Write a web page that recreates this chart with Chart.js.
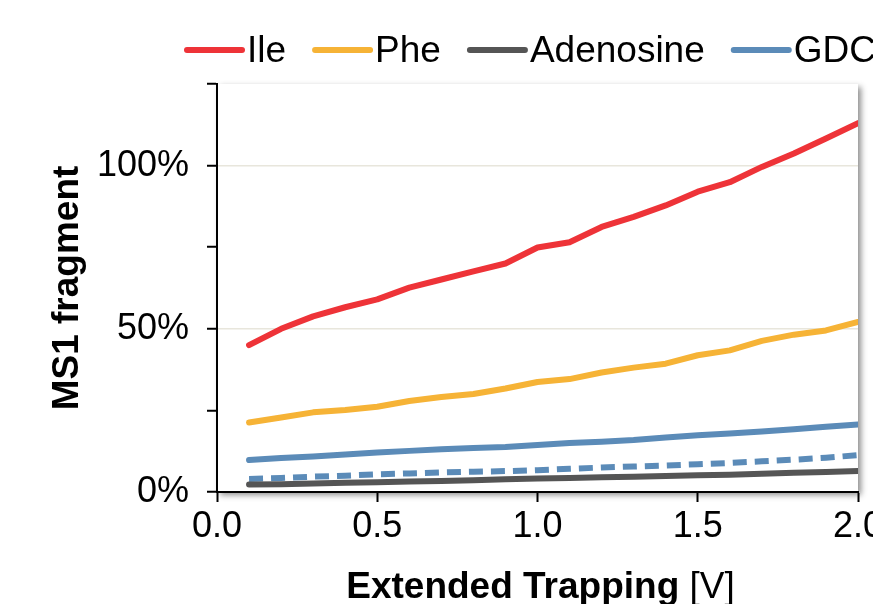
<!DOCTYPE html>
<html>
<head>
<meta charset="utf-8">
<script src="https://cdn.jsdelivr.net/npm/chart.js@4.4.0/dist/chart.umd.min.js"></script>
<style>
  html, body { margin: 0; padding: 0; background: #fff; overflow: hidden; }
  #wrap { width: 873px; height: 604px; overflow: hidden; position: relative; }
</style>
</head>
<body>
<div id="wrap"><canvas id="chart" width="1000" height="604"></canvas></div>
<script>
// extended trapping voltage [V]
const voltages = [0.1, 0.2, 0.3, 0.4, 0.5, 0.6, 0.7, 0.8, 0.9, 1.0,
                  1.1, 1.2, 1.3, 1.4, 1.5, 1.6, 1.7, 1.8, 1.9, 2.0];

// MS1 fragment, in %
const ile = [45.0, 50.0, 53.8, 56.6, 59.0, 62.6, 65.1, 67.6, 70.0, 74.9,
             76.5, 81.2, 84.3, 87.8, 92.0, 94.9, 99.6, 103.7, 108.3, 113.0];
const phe = [21.3, 22.8, 24.4, 25.1, 26.1, 27.9, 29.1, 30.0, 31.7, 33.7,
             34.6, 36.6, 38.1, 39.3, 41.9, 43.4, 46.3, 48.2, 49.5, 52.1];
const adenosine = [2.3, 2.4, 2.6, 2.8, 3.0, 3.2, 3.4, 3.6, 3.9, 4.1,
                   4.3, 4.5, 4.7, 4.9, 5.1, 5.3, 5.6, 5.9, 6.1, 6.4];
const gdc = [9.8, 10.4, 10.9, 11.5, 12.1, 12.6, 13.1, 13.5, 13.8, 14.4,
             15.0, 15.4, 15.9, 16.7, 17.4, 17.9, 18.5, 19.2, 20.0, 20.7];
const gdcDashed = [4.0, 4.3, 4.7, 5.0, 5.4, 5.7, 6.0, 6.2, 6.4, 6.7,
                   7.1, 7.5, 7.8, 8.1, 8.5, 8.9, 9.4, 9.9, 10.5, 11.3];

const seriesNames = ['Ile', 'Phe', 'Adenosine', 'GDC'];
const yLabelTicks = [0, 50, 100];

const FONT = '"Liberation Sans", Arial, sans-serif';

function pts(values) {
    return values.map((v, i) => ({x: voltages[i], y: v}));
}

// white plot area with soft shadow on the right and bottom
const areaShadow = {
    id: 'areaShadow',
    beforeDraw(chart) {
        const a = chart.chartArea;
        const ctx = chart.ctx;
        ctx.save();
        ctx.shadowColor = 'rgba(0,0,0,0.45)';
        ctx.shadowBlur = 6;
        ctx.shadowOffsetX = 3;
        ctx.shadowOffsetY = 3;
        ctx.fillStyle = '#fff';
        ctx.fillRect(a.left, a.top, a.right - a.left, a.bottom - a.top);
        ctx.restore();
    }
};

// legend drawn by hand: short line right next to the label
const lineLegend = {
    id: 'lineLegend',
    afterDraw(chart) {
        const ctx = chart.ctx;
        ctx.save();
        ctx.font = '37px ' + FONT;
        ctx.textBaseline = 'alphabetic';
        let x = 187;
        chart.data.datasets.forEach(ds => {
            if (!ds.inLegend) return;
            ctx.strokeStyle = ds.borderColor;
            ctx.lineWidth = 6;
            ctx.lineCap = 'round';
            ctx.beginPath();
            ctx.moveTo(x, 50);
            ctx.lineTo(x + 55, 50);
            ctx.stroke();
            x += 60;
            ctx.fillStyle = '#000';
            ctx.fillText(ds.label, x, 62);
            x += ctx.measureText(ds.label).width + 29;
        });
        ctx.restore();
    }
};

// x title: bold words, regular unit
const xTitle = {
    id: 'xTitle',
    afterDraw(chart) {
        const ctx = chart.ctx;
        const a = chart.chartArea;
        const p1 = 'Extended Trapping ';
        const p2 = '[V]';
        ctx.save();
        ctx.fillStyle = '#000';
        ctx.textBaseline = 'alphabetic';
        ctx.font = 'bold 37px ' + FONT;
        const w1 = ctx.measureText(p1).width;
        ctx.font = '37px ' + FONT;
        const w2 = ctx.measureText(p2).width;
        let x = (a.left + a.right) / 2 + 3 - (w1 + w2) / 2;
        ctx.font = 'bold 37px ' + FONT;
        ctx.fillText(p1, x, 598);
        ctx.font = '37px ' + FONT;
        ctx.fillText(p2, x + w1, 598);
        ctx.restore();
    }
};

const ctx = document.getElementById('chart');

new Chart(ctx, {
    type: 'line',
    data: {
        datasets: [
            {label: seriesNames[0], data: pts(ile), borderColor: '#EE3338', inLegend: true},
            {label: seriesNames[1], data: pts(phe), borderColor: '#F6B336', inLegend: true},
            {label: seriesNames[2], data: pts(adenosine), borderColor: '#555555', inLegend: true},
            {label: seriesNames[3], data: pts(gdc), borderColor: '#5B8BB8', inLegend: true},
            {label: seriesNames[3] + ' dashed', data: pts(gdcDashed), borderColor: '#5B8BB8',
             borderDash: [14, 8], borderCapStyle: 'butt', inLegend: false}
        ]
    },
    options: {
        responsive: false,
        animation: false,
        devicePixelRatio: 1,
        elements: {
            line: {borderWidth: 6, tension: 0, borderCapStyle: 'round', borderJoinStyle: 'round', fill: false},
            point: {radius: 0, hoverRadius: 0}
        },
        layout: {padding: {top: 84, left: 0, right: 142, bottom: 0}},
        plugins: {
            legend: {display: false},
            tooltip: {enabled: false}
        },
        scales: {
            x: {
                type: 'linear',
                min: 0,
                max: 2,
                afterFit: s => { s.height = 112; },
                border: {color: '#000', width: 2},
                grid: {drawOnChartArea: false, tickLength: 10, tickColor: '#000', tickWidth: 2},
                ticks: {
                    stepSize: 0.5,
                    color: '#000',
                    padding: 3,
                    maxRotation: 0,
                    font: {family: FONT, size: 36},
                    callback: v => v.toFixed(1)
                }
            },
            y: {
                min: 0,
                max: 125,
                afterFit: s => { s.width = 217; },
                border: {color: '#000', width: 2},
                grid: {
                    tickLength: 10,
                    tickColor: '#000',
                    tickWidth: 2,
                    lineWidth: 1.5,
                    color: c => (c.tick && c.tick.value > 0 && yLabelTicks.includes(c.tick.value)) ? '#E8E6DC' : 'rgba(0,0,0,0)'
                },
                ticks: {
                    stepSize: 25,
                    color: '#000',
                    padding: 18,
                    font: {family: FONT, size: 36},
                    callback: v => yLabelTicks.includes(v) ? v + '%' : ''
                },
                title: {
                    display: true,
                    text: 'MS1 fragment',
                    color: '#000',
                    font: {family: FONT, size: 37, weight: 'bold'},
                    padding: {top: 46, bottom: 0}
                }
            }
        }
    },
    plugins: [areaShadow, lineLegend, xTitle]
});
</script>
</body>
</html>
